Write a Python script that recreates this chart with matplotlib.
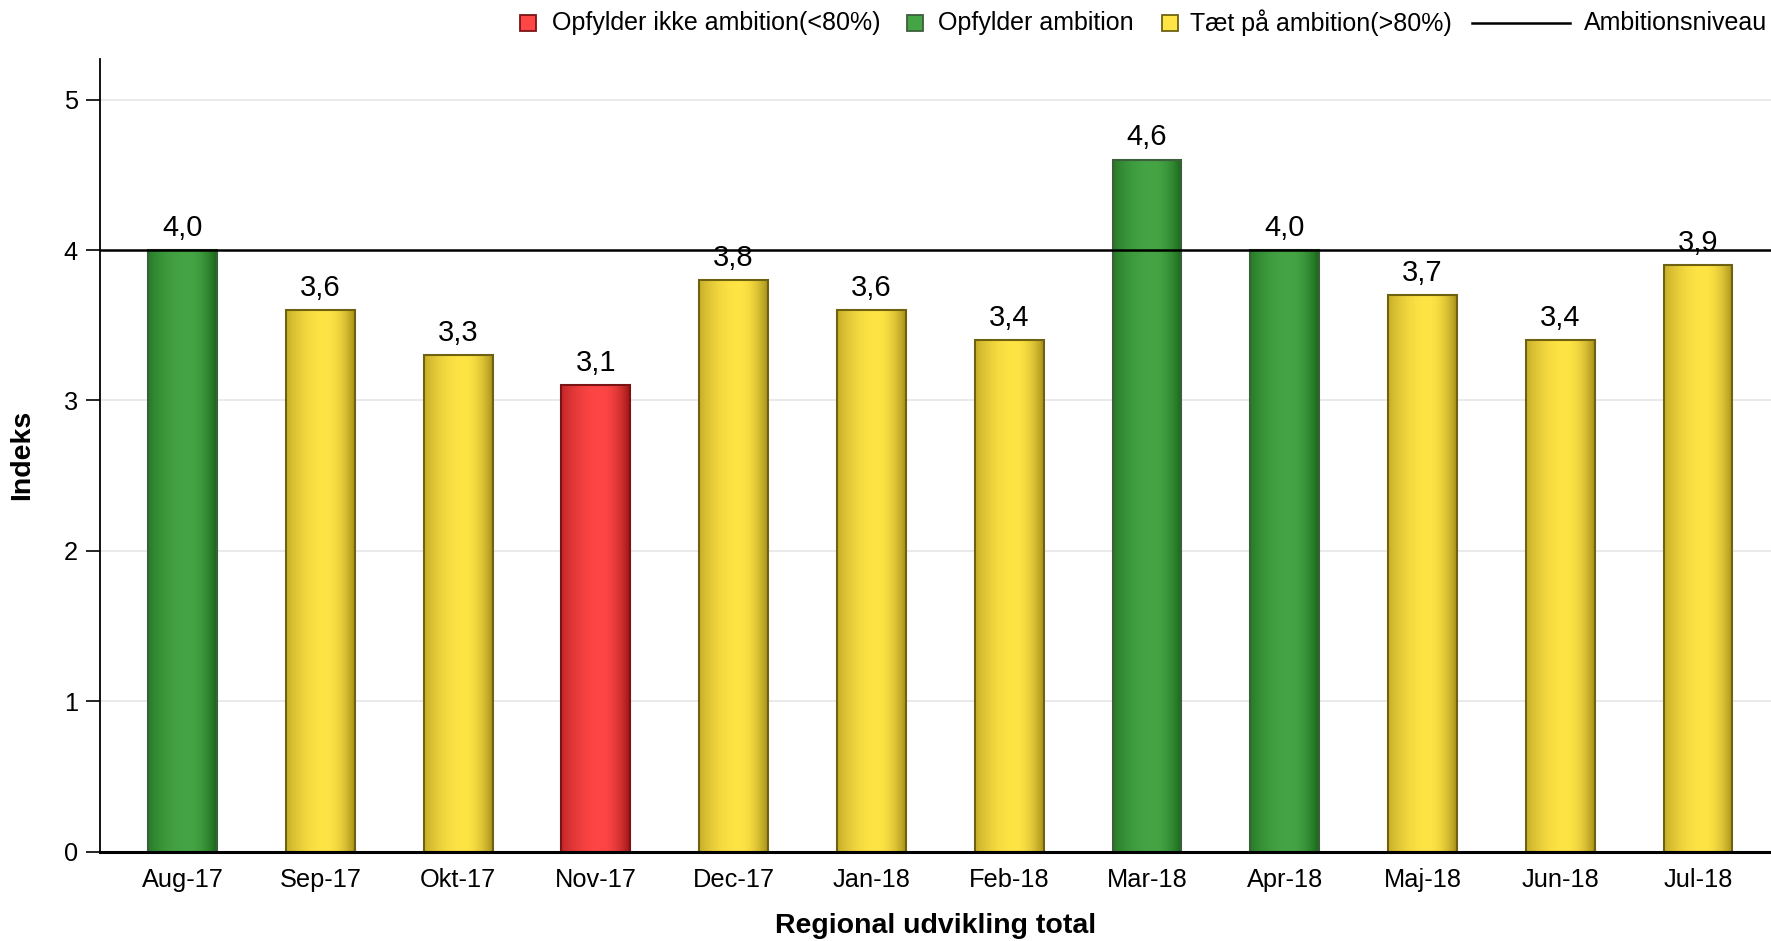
import numpy as np
import matplotlib
matplotlib.use("Agg")
import matplotlib.pyplot as plt
from matplotlib.patches import Rectangle
from matplotlib.lines import Line2D
from matplotlib.colors import to_rgb

plt.rcParams['font.family'] = ['Liberation Sans', 'DejaVu Sans']

categories = ["Aug-17", "Sep-17", "Okt-17", "Nov-17", "Dec-17", "Jan-18",
              "Feb-18", "Mar-18", "Apr-18", "Maj-18", "Jun-18", "Jul-18"]
values = [4.0, 3.6, 3.3, 3.1, 3.8, 3.6, 3.4, 4.6, 4.0, 3.7, 3.4, 3.9]
status = ["green", "yellow", "yellow", "red", "yellow", "yellow",
          "yellow", "green", "green", "yellow", "yellow", "yellow"]
ambition = 4.0
legend_labels = ["Opfylder ikke ambition(<80%)", "Opfylder ambition",
                 "Tæt på ambition(>80%)", "Ambitionsniveau"]
legend_kinds = ["red", "green", "yellow", "line"]

palette = {
    "red":    {"light": "#ff4646", "dark": "#a01616", "edge": "#7a1414"},
    "green":  {"light": "#45a545", "dark": "#186618", "edge": "#3d5e3d"},
    "yellow": {"light": "#ffe445", "dark": "#a8901a", "edge": "#6e6212"},
}

W, H = 1771, 941
fig = plt.figure(figsize=(W / 100, H / 100), dpi=100)
ax = fig.add_axes([100 / W, 1 - 851.6 / H, 1 - 100 / W, (851.6 - 59) / H])

x = np.arange(len(categories))
width = 0.5
bars = ax.bar(x, values, width=width, facecolor='none', zorder=3)

# cylindrical gradient profile (lightest slightly right of centre)
t = np.linspace(0, 1, 200)
peak = 0.58
prof = np.where(t < peak,
                0.35 + 0.65 * (1 - ((t - peak) / peak) ** 2),
                1 - ((t - peak) / (1 - peak)) ** 2)
prof = np.clip(prof, 0, 1)
for b, s in zip(bars, status):
    c = palette[s]
    lo = np.array(to_rgb(c["dark"]))
    hi = np.array(to_rgb(c["light"]))
    img = lo[None, :] + prof[:, None] * (hi - lo)[None, :]
    img = img[None, :, :]
    x0, y0 = b.get_x(), b.get_y()
    w, h = b.get_width(), b.get_height()
    im = ax.imshow(img, extent=[x0, x0 + w, y0, y0 + h], aspect='auto',
                   interpolation='bilinear', zorder=2)
    im.set_clip_path(b)
    b.set_edgecolor(c["edge"])
    b.set_linewidth(1.5)

for xi, v in zip(x, values):
    ax.text(xi, v + 0.055, f"{v:.1f}".replace(".", ","), ha='center', va='bottom',
            fontsize=21, zorder=5)

ax.axhline(ambition, color='black', linewidth=1.8, zorder=4)

ax.set_xlim(-0.6, 11.53)
ax.set_ylim(0, 5.27)
ax.set_yticks([0, 1, 2, 3, 4, 5])
ax.set_yticklabels(["0", "1", "2", "3", "4", "5"])
ax.set_xticks(x)
ax.set_xticklabels(categories)
ax.tick_params(axis='x', length=0, pad=12, labelsize=18.3)
ax.tick_params(axis='y', length=10, width=1.2, pad=6, labelsize=18.3)
for yv in [1, 2, 3, 5]:
    ax.axhline(yv, color='#e6e6e6', linewidth=1.2, zorder=0)

for sp in ['top', 'right']:
    ax.spines[sp].set_visible(False)
ax.spines['left'].set_linewidth(1.3)
ax.spines['bottom'].set_linewidth(2.2)
ax.spines['bottom'].set_zorder(6)

ax.set_ylabel("Indeks", fontsize=20.5, fontweight='bold')
ax.yaxis.set_label_coords(-0.039, 0.5)
ax.set_xlabel("Regional udvikling total", fontsize=20.5, fontweight='bold')
ax.xaxis.set_label_coords(0.5, -0.077)

# manual legend in figure pixel coordinates
ly = H - 23
box_x = [520, 907, 1162]
text_x = [552, 938, 1190, 1584]
bs = 16
for i, kind in enumerate(legend_kinds):
    if kind == "line":
        fig.add_artist(Line2D([1472 / W, 1570 / W], [ly / H, ly / H], color='black',
                              linewidth=1.8, transform=fig.transFigure))
    else:
        c = palette[kind]
        fig.add_artist(Rectangle(((box_x[i]) / W, (ly - bs / 2) / H), bs / W, bs / H,
                                 facecolor=c["light"], edgecolor=c["edge"], linewidth=1.3,
                                 transform=fig.transFigure))
    fig.text(text_x[i] / W, ly / H, legend_labels[i], fontsize=18, ha='left', va='center')

fig.savefig("out.png", dpi=100, facecolor='white')
